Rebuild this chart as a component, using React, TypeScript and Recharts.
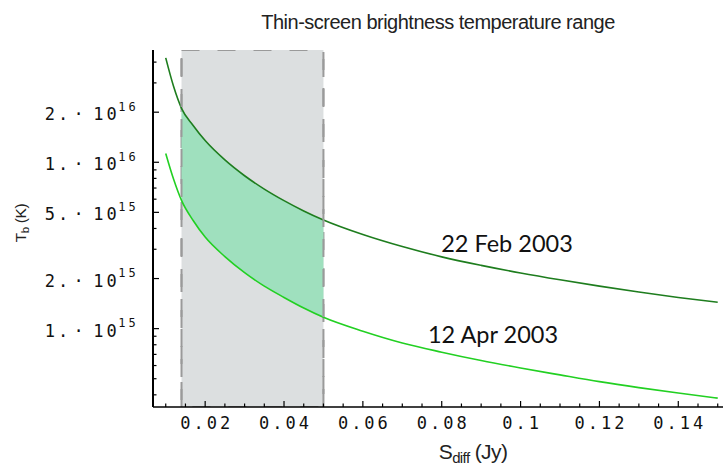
import React from "react";
import {
  ComposedChart,
  Line,
  Area,
  XAxis,
  YAxis,
  ReferenceArea,
  ReferenceLine,
  Customized,
} from "recharts";

// S_diff (Jy)
const sJy = [
  0.01, 0.012, 0.014, 0.017, 0.02, 0.025, 0.03, 0.035, 0.04, 0.045, 0.05, 0.06,
  0.07, 0.08, 0.09, 0.1, 0.11, 0.12, 0.13, 0.14, 0.15,
];
// Tb (K), 22 Feb 2003
const tbFeb22 = [
  4.24e16, 2.85e16, 2.11e16, 1.66e16, 1.35e16, 1.033e16, 8.3e15, 6.9e15,
  5.88e15, 5.1e15, 4.5e15, 3.68e15, 3.115e15, 2.7e15, 2.4e15, 2.16e15,
  1.965e15, 1.8e15, 1.66e15, 1.54e15, 1.44e15,
];
// Tb (K), 12 Apr 2003
const tbApr12 = [
  1.13e16, 7.9e15, 5.9e15, 4.45e15, 3.55e15, 2.71e15, 2.17e15, 1.8e15, 1.54e15,
  1.33e15, 1.17e15, 9.65e14, 8.2e14, 7.22e14, 6.43e14, 5.8e14, 5.27e14, 4.8e14,
  4.42e14, 4.1e14, 3.82e14,
];
// shaded S range
const bandRange = [0.014, 0.05];

const xMajorTicks = [0.02, 0.04, 0.06, 0.08, 0.1, 0.12, 0.14];
const xMajorLabels = ["0.02", "0.04", "0.06", "0.08", "0.1", "0.12", "0.14"];
const xMinorTicks = [
  0.01, 0.015, 0.025, 0.03, 0.035, 0.045, 0.05, 0.055, 0.065, 0.07, 0.075,
  0.085, 0.09, 0.095, 0.105, 0.11, 0.115, 0.125, 0.13, 0.135, 0.145, 0.15,
];
const yMajorTicks = [1e15, 2e15, 5e15, 1e16, 2e16];
const yMantissas = ["1.", "2.", "5.", "1.", "2."];
const yExponents = ["15", "15", "15", "16", "16"];
const yMinorTicks = [
  4e14, 5e14, 6e14, 7e14, 8e14, 9e14, 3e15, 4e15, 6e15, 7e15, 8e15, 9e15, 3e16,
  4e16,
];

const xDomain = [0.00677, 0.15134];
const yDomain = [3.38e14, 4.73e16];

const data = sJy.map((s, i) => ({
  s,
  feb: tbFeb22[i],
  apr: tbApr12[i],
  band:
    s >= bandRange[0] - 1e-9 && s <= bandRange[1] + 1e-9
      ? [tbApr12[i], tbFeb22[i]]
      : null,
}));

const xTicks = [...xMajorTicks, ...xMinorTicks].sort((a, b) => a - b);
const yTicks = [...yMajorTicks, ...yMinorTicks].sort((a, b) => a - b);

const MONO = "'DejaVu Sans Mono', monospace";
const SANS = "'Liberation Sans', Arial, sans-serif";

const XTick = (props: any) => {
  const { x, y, payload } = props;
  const v = payload.value;
  const idx = xMajorTicks.findIndex((t) => Math.abs(t - v) < 1e-9);
  const major = idx >= 0;
  return (
    <g>
      <line
        x1={x}
        x2={x}
        y1={y}
        y2={y - (major ? 6 : 3.5)}
        stroke="#000"
        strokeWidth={1.2}
      />
      {major && (
        <text
          x={x + 1.5}
          y={y + 21.5}
          textAnchor="middle"
          fontFamily={MONO}
          fontSize={17}
          letterSpacing={3}
          fill="#111"
        >
          {xMajorLabels[idx]}
        </text>
      )}
    </g>
  );
};

const YTick = (props: any) => {
  const { x, y, payload } = props;
  const v = payload.value;
  const idx = yMajorTicks.findIndex((t) => Math.abs(t - v) / t < 1e-6);
  const major = idx >= 0;
  return (
    <g>
      <line
        x1={x}
        x2={x + (major ? 6 : 3.5)}
        y1={y}
        y2={y}
        stroke="#000"
        strokeWidth={1.2}
      />
      {major && (
        <text fontFamily={MONO} fontSize={17} fill="#111" letterSpacing={3}>
          <tspan x={x - 108.3} y={y + 8}>
            {yMantissas[idx]}
          </tspan>
          <tspan x={x - 79.4} y={y + 8}>
            {"\u00b7"}
          </tspan>
          <tspan x={x - 59.7} y={y + 8}>
            10
          </tspan>
          <tspan x={x - 34.7} y={y - 1.3} fontSize={12}>
            {yExponents[idx]}
          </tspan>
        </text>
      )}
    </g>
  );
};

const TextLayer = () => (
  <g>
    <text
      x={438}
      y={29}
      textAnchor="middle"
      fontFamily={SANS}
      fontSize={20}
      letterSpacing={-0.5}
      fill="#222"
    >
      Thin-screen brightness temperature range
    </text>
    <text
      x={473}
      y={459}
      textAnchor="middle"
      fontFamily={SANS}
      fontSize={21}
      letterSpacing={-0.6}
      fill="#222"
    >
      S
      <tspan fontSize={15} dy={4}>
        diff
      </tspan>
      <tspan dy={-4}> (Jy)</tspan>
    </text>
    <text
      transform="translate(26,223) rotate(-90)"
      textAnchor="middle"
      fontFamily={SANS}
      fontSize={15.5}
      letterSpacing={-0.4}
      fill="#222"
    >
      T
      <tspan fontSize={11.5} dy={3}>
        b
      </tspan>
      <tspan dy={-3}> (K)</tspan>
    </text>
    <text
      x={507}
      y={252}
      textAnchor="middle"
      fontFamily="Lato, sans-serif"
      fontSize={23.5}
      fill="#111"
    >
      22 Feb 2003
    </text>
    <text
      x={493}
      y={343}
      textAnchor="middle"
      fontFamily="Lato, sans-serif"
      fontSize={23.5}
      fill="#111"
    >
      12 Apr 2003
    </text>
  </g>
);

export default function App() {
  return (
    <div
      style={{
        position: "absolute",
        left: 0,
        top: 0,
        width: 723,
        height: 466,
        background: "#fff",
        overflow: "hidden",
      }}
    >
      <ComposedChart
        width={723}
        height={466}
        data={data}
        margin={{ top: 50, right: 0, bottom: 0, left: 0 }}
      >
        <XAxis
          dataKey="s"
          type="number"
          domain={xDomain}
          allowDataOverflow
          ticks={xTicks}
          interval={0}
          tick={<XTick />}
          tickLine={false}
          tickSize={0}
          tickMargin={0}
          height={59}
          axisLine={{ stroke: "#000", strokeWidth: 1.5 }}
        />
        <XAxis
          xAxisId="top"
          orientation="top"
          type="number"
          domain={xDomain}
          allowDataOverflow
          height={0}
          tick={false}
          tickLine={false}
          axisLine={{ stroke: "#000", strokeWidth: 2 }}
        />
        <YAxis
          type="number"
          scale="log"
          domain={yDomain}
          allowDataOverflow
          ticks={yTicks}
          interval={0}
          tick={<YTick />}
          tickLine={false}
          tickSize={0}
          tickMargin={0}
          width={153}
          axisLine={{ stroke: "#000", strokeWidth: 2 }}
        />
        <ReferenceArea
          x1={bandRange[0]}
          x2={bandRange[1]}
          y1={yDomain[0]}
          y2={yDomain[1]}
          fill="#dcdfe0"
          fillOpacity={1}
          stroke="#9a9a9a"
          strokeWidth={2}
          strokeDasharray="18 18"
          ifOverflow="hidden"
        />
        <Area
          dataKey="band"
          type="monotone"
          stroke="none"
          fill="#9fe0be"
          fillOpacity={1}
          isAnimationActive={false}
          connectNulls={false}
          activeDot={false}
        />
        <Line
          dataKey="feb"
          type="monotone"
          stroke="#1e7d1e"
          strokeWidth={1.6}
          dot={false}
          activeDot={false}
          isAnimationActive={false}
        />
        <Line
          dataKey="apr"
          type="monotone"
          stroke="#22d022"
          strokeWidth={1.6}
          dot={false}
          activeDot={false}
          isAnimationActive={false}
        />
        <ReferenceLine
          x={bandRange[0]}
          stroke="#9a9a9a"
          strokeWidth={2}
          strokeDasharray="18 12"
        />
        <ReferenceLine
          x={bandRange[1]}
          stroke="#9a9a9a"
          strokeWidth={2}
          strokeDasharray="18 12"
        />
        <Customized component={<TextLayer />} />
      </ComposedChart>
    </div>
  );
}
